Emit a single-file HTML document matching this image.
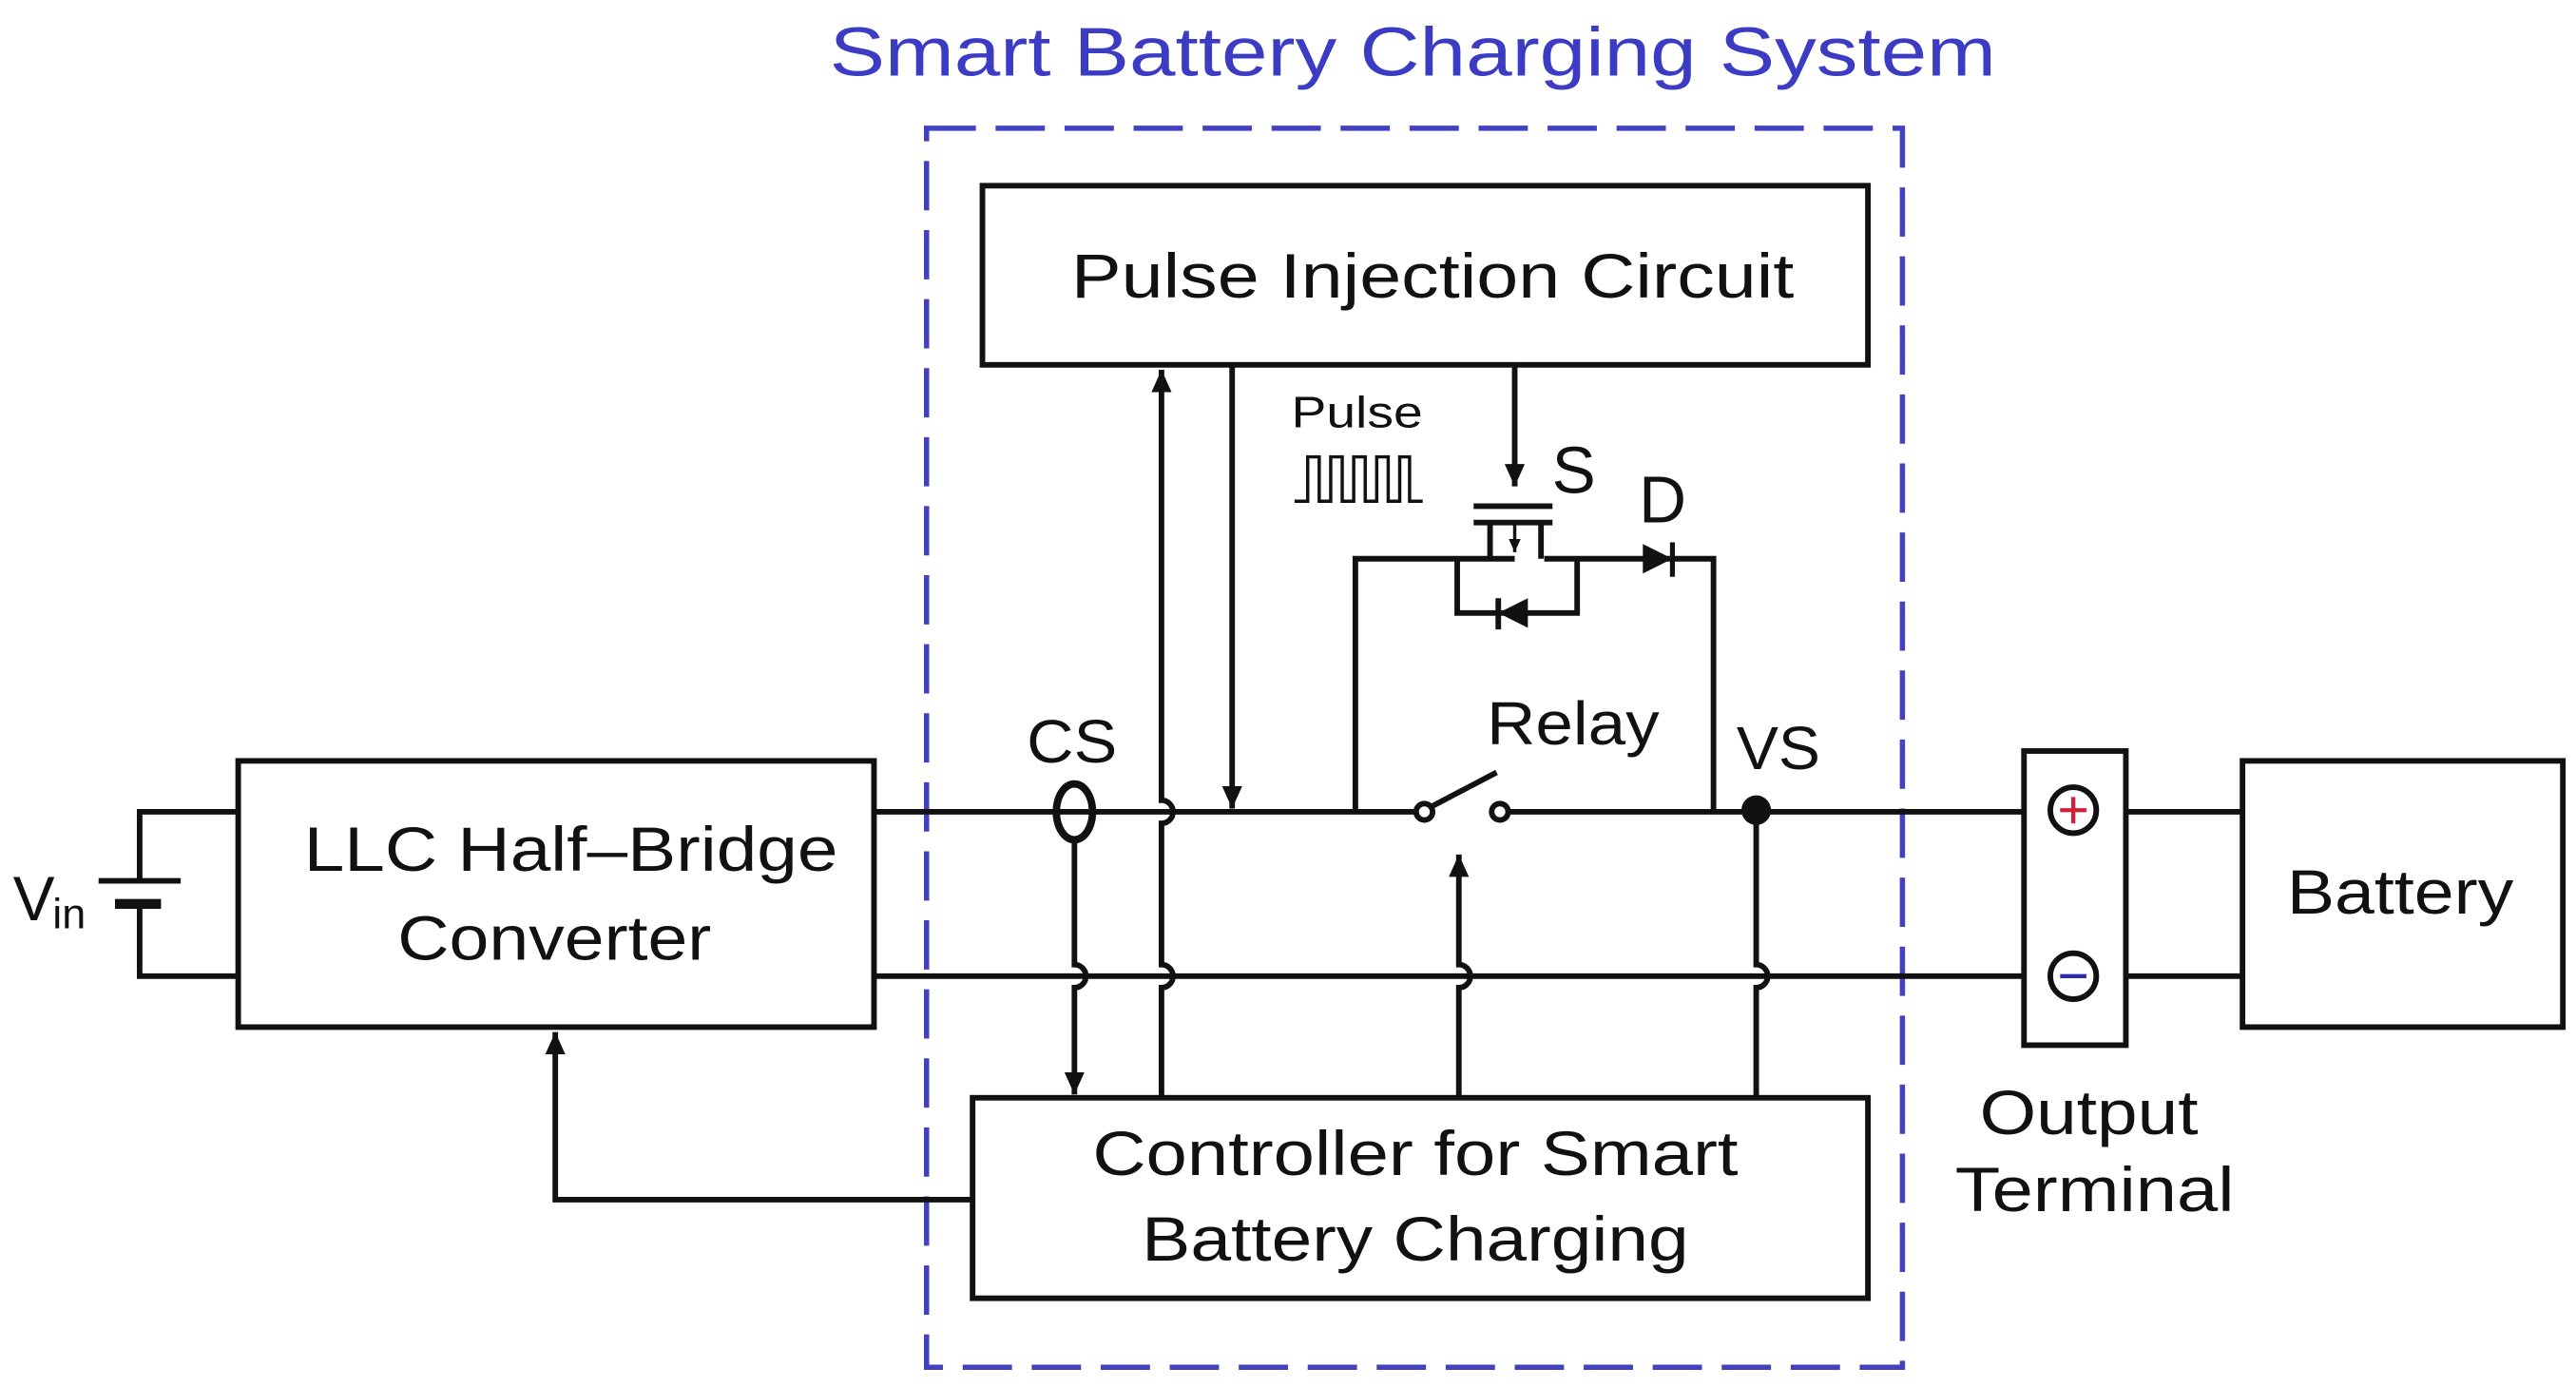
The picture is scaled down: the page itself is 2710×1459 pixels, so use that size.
<!DOCTYPE html>
<html><head><meta charset="utf-8"><style>
html,body{margin:0;padding:0;background:#fff;}
svg{display:block;}
text{font-family:"Liberation Sans",sans-serif;fill:#111;}
</style></head><body>
<svg width="2710" height="1459" viewBox="0 0 1568 844" preserveAspectRatio="none" xmlns="http://www.w3.org/2000/svg">
<defs>
<marker id="ar" viewBox="0 0 10 10" refX="10" refY="5" markerWidth="4" markerHeight="4" orient="auto-start-reverse" markerUnits="strokeWidth"><path d="M0,0.5 L10,5 L0,9.5 z" fill="#111"/></marker>
</defs>
<rect width="1568" height="844" fill="#fff"/>
<text x="505" y="46" textLength="710" lengthAdjust="spacingAndGlyphs" font-size="42" style="fill:#3b3bc4">Smart Battery Charging System</text>
<rect x="564" y="78" width="594" height="754" fill="none" stroke="#4242c0" stroke-width="3.2" stroke-dasharray="30,12"/>
<g fill="none" stroke="#111" stroke-width="3.4">
<rect x="598" y="113" width="539" height="109"/>
<rect x="145" y="463" width="387" height="162"/>
<rect x="592" y="668" width="545" height="122"/>
<rect x="1365" y="463" width="195" height="162"/>
<rect x="1232" y="457" width="62" height="179"/>
<path d="M532,494 H862 M918,494 H1232 M1294,494 H1365"/>
<path d="M532,594 H1232 M1294,594 H1365"/>
<path d="M145,494 H85 V536 M85,550 V594 H145"/>
<path d="M60,536 H110"/>
<path d="M70,550 H98" stroke-width="6"/>
<ellipse cx="654" cy="494" rx="11" ry="17" stroke-width="4.5"/>
<path d="M654,511 V587 A7,7 0 0 1 654,601 V666" marker-end="url(#ar)"/>
<path d="M707,668 V601 A7,7 0 0 0 707,587 V501 A7,7 0 0 0 707,487 V225" marker-end="url(#ar)"/>
<path d="M750,222 V492" marker-end="url(#ar)"/>
<path d="M922,222 V296" marker-end="url(#ar)"/>
<circle cx="867" cy="494" r="5"/>
<circle cx="913" cy="494" r="5"/>
<path d="M871,491 L911,470"/>
<path d="M888,668 V601 A7,7 0 0 0 888,587 V520" marker-end="url(#ar)"/>
<path d="M1069,494 V587 A7,7 0 0 1 1069,601 V668"/>
<path d="M825,494 V340 H922"/>
<path d="M940,340 H1043 V494"/>
<path d="M897,308 H945 M897,318 H945"/>
<path d="M907,318 V340 M938,318 V340"/>
<path d="M922,318 V336" stroke-width="2" marker-end="url(#ar)"/>
<path d="M887,340 V373 H960 V340"/>
<path d="M912,364 V383"/>
<path d="M592,730 H338 V628" marker-end="url(#ar)"/>
<path d="M788,305 H796 V278 H803 V305 H810 V278 H817 V305 H824 V278 H831 V305 H838 V278 H845 V305 H852 V278 H858 V305 H866" stroke-width="2"/>
<circle cx="1262" cy="493" r="14"/>
<circle cx="1262" cy="594" r="14"/>
</g>
<path d="M930,364 L912,373 L930,382 z" fill="#111"/>
<path d="M1000,331 L1018,340 L1000,349 z" fill="#111"/>
<path d="M1018,330 V351" stroke="#111" stroke-width="3"/>
<circle cx="1069" cy="493" r="9" fill="#111"/>
<path d="M1254,493 H1270 M1262,485 V501" stroke="#d0203a" stroke-width="2.5"/>
<path d="M1254,594 H1270" stroke="#2a2ab0" stroke-width="2.5"/>
<text x="652" y="181" textLength="440" lengthAdjust="spacingAndGlyphs" font-size="38">Pulse Injection Circuit</text>
<text x="185" y="530" textLength="325" lengthAdjust="spacingAndGlyphs" font-size="38">LLC Half–Bridge</text>
<text x="242" y="584" textLength="191" lengthAdjust="spacingAndGlyphs" font-size="38">Converter</text>
<text x="665" y="715" textLength="393" lengthAdjust="spacingAndGlyphs" font-size="38">Controller for Smart</text>
<text x="695" y="767" textLength="333" lengthAdjust="spacingAndGlyphs" font-size="38">Battery Charging</text>
<text x="1392" y="556" textLength="138" lengthAdjust="spacingAndGlyphs" font-size="38">Battery</text>
<text x="1205" y="690" textLength="133" lengthAdjust="spacingAndGlyphs" font-size="38">Output</text>
<text x="1190" y="737" textLength="170" lengthAdjust="spacingAndGlyphs" font-size="38">Terminal</text>
<text x="8" y="560" font-size="38">V</text>
<text x="32" y="565" font-size="26">in</text>
<text x="625" y="464" textLength="55" lengthAdjust="spacingAndGlyphs" font-size="37">CS</text>
<text x="1057" y="468" textLength="51" lengthAdjust="spacingAndGlyphs" font-size="37">VS</text>
<text x="905" y="453" textLength="105" lengthAdjust="spacingAndGlyphs" font-size="37">Relay</text>
<text x="786" y="260" textLength="80" lengthAdjust="spacingAndGlyphs" font-size="27">Pulse</text>
<text x="958" y="300" text-anchor="middle" font-size="40">S</text>
<text x="1012" y="318" text-anchor="middle" font-size="40">D</text>
</svg>
</body></html>
